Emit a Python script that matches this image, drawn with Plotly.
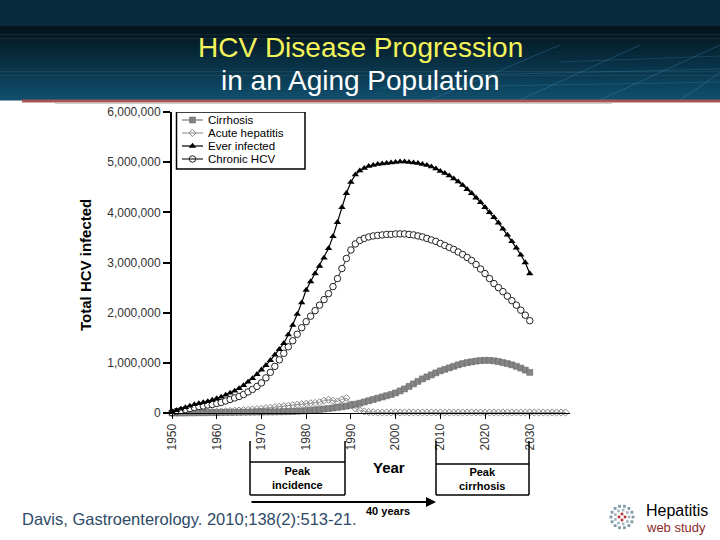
import math
import plotly.graph_objects as go

# ---- data (millions of people) ----
years = list(range(1950, 2031))
years_acute = list(range(1950, 2039))

ever_infected = [
    0.03, 0.05, 0.08, 0.11, 0.14, 0.17, 0.19, 0.21, 0.23, 0.26,
    0.29, 0.32, 0.36, 0.40, 0.44, 0.49, 0.55, 0.62, 0.69, 0.77,
    0.86, 0.95, 1.05, 1.16, 1.27, 1.39, 1.56, 1.75, 1.97, 2.20,
    2.45, 2.62, 2.78, 2.93, 3.09, 3.28, 3.52, 3.80, 4.10, 4.38,
    4.60, 4.75, 4.83, 4.88, 4.92, 4.94, 4.96, 4.97, 4.98, 4.99,
    5.00, 5.01, 5.01, 5.00, 4.99, 4.98, 4.96, 4.94, 4.91, 4.87,
    4.82, 4.78, 4.73, 4.67, 4.61, 4.54, 4.46, 4.38, 4.29, 4.20,
    4.10, 4.00, 3.90, 3.79, 3.67, 3.55, 3.42, 3.29, 3.15, 3.00,
    2.78,
]
chronic_hcv = [
    0.01, 0.03, 0.05, 0.07, 0.09, 0.11, 0.13, 0.14, 0.16, 0.17,
    0.19, 0.21, 0.24, 0.27, 0.30, 0.33, 0.37, 0.42, 0.47, 0.53,
    0.60, 0.70, 0.81, 0.93, 1.06, 1.19, 1.32, 1.44, 1.57, 1.70,
    1.82, 1.93, 2.04, 2.15, 2.26, 2.38, 2.52, 2.68, 2.88, 3.08,
    3.25, 3.37, 3.44, 3.48, 3.51, 3.53, 3.54, 3.55, 3.56, 3.56,
    3.57, 3.57, 3.57, 3.56, 3.55, 3.53, 3.51, 3.48, 3.45, 3.42,
    3.38, 3.34, 3.30, 3.26, 3.21, 3.16, 3.10, 3.04, 2.96, 2.87,
    2.78, 2.68, 2.58, 2.50, 2.42, 2.33, 2.24, 2.15, 2.05, 1.95,
    1.84,
]
cirrhosis = [
    0.000, 0.001, 0.002, 0.003, 0.004, 0.005, 0.006, 0.007, 0.008, 0.009,
    0.010, 0.011, 0.012, 0.013, 0.014, 0.015, 0.016, 0.017, 0.018, 0.019,
    0.020, 0.021, 0.022, 0.023, 0.024, 0.026, 0.028, 0.030, 0.034, 0.040,
    0.046, 0.053, 0.061, 0.070, 0.080, 0.090, 0.100, 0.112, 0.124, 0.138,
    0.155, 0.175, 0.195, 0.220, 0.245, 0.270, 0.295, 0.320, 0.345, 0.370,
    0.400, 0.440, 0.480, 0.530, 0.580, 0.630, 0.680, 0.720, 0.760, 0.800,
    0.840, 0.870, 0.900, 0.930, 0.960, 0.985, 1.005, 1.020, 1.035, 1.045,
    1.050, 1.048, 1.040, 1.025, 1.005, 0.985, 0.960, 0.930, 0.895, 0.855,
    0.810,
]
acute_hepatitis = [
    0.000, 0.005, 0.008, 0.010, 0.012, 0.014, 0.016, 0.018, 0.020, 0.022,
    0.025, 0.030, 0.035, 0.040, 0.045, 0.050, 0.056, 0.062, 0.070, 0.078,
    0.086, 0.096, 0.106, 0.116, 0.126, 0.135, 0.145, 0.155, 0.165, 0.175,
    0.185, 0.195, 0.200, 0.215, 0.245, 0.265, 0.245, 0.230, 0.270, 0.300,
    0.170, 0.090, 0.050, 0.030, 0.020, 0.015, 0.010, 0.010, 0.010, 0.010,
    0.010, 0.010, 0.010, 0.010, 0.010, 0.010, 0.010, 0.010, 0.010, 0.010,
    0.010, 0.010, 0.010, 0.010, 0.010, 0.010, 0.010, 0.010, 0.010, 0.010,
    0.010, 0.010, 0.010, 0.010, 0.010, 0.010, 0.010, 0.010, 0.010, 0.010,
    0.010, 0.010, 0.010, 0.010, 0.010, 0.010, 0.010, 0.010, 0.010,
]

y_ticks = [0, 1000000, 2000000, 3000000, 4000000, 5000000, 6000000]
x_ticks = list(range(1950, 2031, 10))
legend_names = ['Cirrhosis', 'Acute hepatitis', 'Ever infected', 'Chronic HCV']

FONT = 'Liberation Sans, Arial, sans-serif'

# plot area in pixels (720x540 page)
L, R, T, B = 172, 570, 112, 413


def px(x):
    return (x - L) / (R - L)


def py(y):
    return (B - y) / (B - T)


def m(vals):
    return [v * 1e6 for v in vals]


styles = {
    'Cirrhosis': dict(line=dict(color='#7a7a7a', width=1),
                      marker=dict(symbol='square', size=6, color='#858585', line=dict(color='#606060', width=0.5))),
    'Acute hepatitis': dict(line=dict(color='#9a9a9a', width=1),
                            marker=dict(symbol='diamond-open', size=5.5, color='#888', line_width=1)),
    'Ever infected': dict(line=dict(color='black', width=1.2),
                          marker=dict(symbol='triangle-up', size=6.5, color='black')),
    'Chronic HCV': dict(line=dict(color='#222', width=1),
                        marker=dict(symbol='circle', size=6.5, color='white', line=dict(color='#222', width=1))),
}

fig = go.Figure()
fig.add_scatter(x=years_acute, y=m(acute_hepatitis), name='Acute hepatitis', mode='lines+markers',
                cliponaxis=False, **styles['Acute hepatitis'])
fig.add_scatter(x=years, y=m(cirrhosis), name='Cirrhosis', mode='lines+markers',
                cliponaxis=False, **styles['Cirrhosis'])
fig.add_scatter(x=years, y=m(chronic_hcv), name='Chronic HCV', mode='lines+markers',
                cliponaxis=False, **styles['Chronic HCV'])
fig.add_scatter(x=years, y=m(ever_infected), name='Ever infected', mode='lines+markers',
                cliponaxis=False, **styles['Ever infected'])

# compact hand-drawn legend on a pixel-coordinate overlay axis
shapes = []
for i, name in enumerate(legend_names):
    yy = 120 + 13 * i
    st = styles[name]
    shapes.append(dict(type='line', xref='x2', yref='y2', x0=182, x1=203, y0=yy, y1=yy,
                       line=dict(color=st['line']['color'], width=1.2)))
    fig.add_scatter(x=[192.5], y=[yy], xaxis='x2', yaxis='y2', mode='markers', marker=st['marker'],
                    cliponaxis=False, hoverinfo='skip')
    fig.add_annotation(text=name, xref='x2', yref='y2', x=206, y=yy, xanchor='left', yanchor='middle',
                       showarrow=False, font=dict(family=FONT, size=11.5, color='black'))
shapes.append(dict(type='rect', xref='x2', yref='y2', x0=176.5, x1=305, y0=112, y1=169,
                   line=dict(color='black', width=1.5), fillcolor='rgba(0,0,0,0)'))

fig.update_xaxes(range=[1950, 2039], tickvals=x_ticks, ticks='outside', ticklen=5, tickwidth=1,
                 tickcolor='black', tickangle=-90, showline=True, linecolor='black', linewidth=1,
                 showgrid=False, zeroline=False, tickfont=dict(family=FONT, size=12, color='#333'))
fig.update_yaxes(range=[0, 6000000], tickvals=y_ticks, tickformat=',', ticks='outside', ticklen=7,
                 tickwidth=1.5, tickcolor='black', showline=True, linecolor='black', linewidth=2,
                 showgrid=False, zeroline=False, tickfont=dict(family=FONT, size=12, color='#333'))

# header band
shapes.append(dict(type='rect', xref='paper', yref='paper', x0=px(0), x1=px(720), y0=py(0), y1=py(26),
                   fillcolor='#07293c', line_width=0, layer='below'))
top, bot = (3, 20, 29), (16, 78, 108)
n = 18
for i in range(n):
    t = i / (n - 1)
    c = tuple(int(top[k] + (bot[k] - top[k]) * t) for k in range(3))
    y0 = 26 + i * 74 / n
    shapes.append(dict(type='rect', xref='paper', yref='paper', x0=px(0), x1=px(720),
                       y0=py(y0), y1=py(y0 + 74 / n + 0.5), fillcolor='rgb(%d,%d,%d)' % c,
                       line_width=0, layer='below'))
# faint perspective grid in the header
for x0, x1 in [(430, 560), (520, 640), (600, 720), (680, 760)]:
    shapes.append(dict(type='line', xref='paper', yref='paper', x0=px(x0), x1=px(x1), y0=py(100), y1=py(45),
                       line=dict(color='rgba(90,170,215,0.25)', width=1), layer='below'))
for yy, x0 in [(62, 560), (75, 470), (88, 380)]:
    shapes.append(dict(type='line', xref='paper', yref='paper', x0=px(x0), x1=px(720), y0=py(yy), y1=py(yy - 6),
                       line=dict(color='rgba(90,170,215,0.2)', width=1), layer='below'))
shapes.append(dict(type='line', xref='paper', yref='paper', x0=px(22), x1=px(720), y0=py(101), y1=py(101),
                   line=dict(color='#a65656', width=3)))
shapes.append(dict(type='line', xref='paper', yref='paper', x0=px(55), x1=px(612), y0=py(103.5), y1=py(103.5),
                   line=dict(color='#cfcfcf', width=1)))

# brackets under the x axis
for xa, xb, mid in [(250, 345, 462), (436, 529, 464)]:
    for xx in (xa, xb):
        shapes.append(dict(type='line', xref='paper', yref='paper', x0=px(xx), x1=px(xx), y0=py(441), y1=py(495),
                           line=dict(color='black', width=1.5)))
    for yy in (mid, 495):
        shapes.append(dict(type='line', xref='paper', yref='paper', x0=px(xa), x1=px(xb), y0=py(yy), y1=py(yy),
                           line=dict(color='black', width=1.5)))

# logo dots
cx, cy = 622, 517
for r, k, col, s in [(11, 14, '#7d9aa6', 1.4), (7, 9, '#9fb3bb', 1.3), (3, 4, '#b03535', 1.3)]:
    for j in range(k):
        a = 2 * math.pi * j / k
        xx, yy = cx + r * math.cos(a), cy + r * math.sin(a)
        shapes.append(dict(type='rect', xref='paper', yref='paper', x0=px(xx - s), x1=px(xx + s),
                           y0=py(yy - s), y1=py(yy + s), fillcolor=col, line_width=0))

ann = [
    dict(text='HCV Disease Progression', x=px(360), y=py(47), font=dict(size=28, color='#f4f45a')),
    dict(text='in an Aging Population', x=px(360), y=py(80), font=dict(size=28, color='white')),
    dict(text='<b>Total HCV infected</b>', x=px(85), y=py(265), textangle=-90, font=dict(size=15, color='black')),
    dict(text='<b>Year</b>', x=px(389), y=py(467), font=dict(size=15, color='black')),
    dict(text='<b>Peak<br>incidence</b>', x=px(297), y=py(478), font=dict(size=11, color='black')),
    dict(text='<b>Peak<br>cirrhosis</b>', x=px(482), y=py(479), font=dict(size=11, color='black')),
    dict(text='<b>40 years</b>', x=px(388), y=py(511), font=dict(size=11, color='black')),
    dict(text='Davis, Gastroenterology. 2010;138(2):513-21.', x=px(20), y=py(519), xanchor='left',
         font=dict(size=16.5, color='#2e4a68')),
    dict(text='Hepatitis', x=px(710), y=py(510), xanchor='right', font=dict(size=16, color='black')),
    dict(text='web study', x=px(708), y=py(527), xanchor='right', font=dict(size=13, color='#8b2a2a')),
]
for a in ann:
    a.setdefault('xanchor', 'center')
    a.update(xref='paper', yref='paper', showarrow=False, yanchor='middle')
    a['font'].setdefault('family', FONT)
    fig.add_annotation(**a)

# 40-year arrow
fig.add_annotation(xref='paper', yref='paper', x=px(436), y=py(502), ax=-186, ay=0, text='', showarrow=True,
                   arrowhead=2, arrowsize=1, arrowwidth=2, arrowcolor='black')

fig.update_layout(
    width=720, height=540,
    margin=dict(l=L, r=720 - R, t=T, b=540 - B),
    paper_bgcolor='white', plot_bgcolor='white',
    shapes=shapes, showlegend=False,
    font=dict(family=FONT),
    xaxis2=dict(range=[L, R], overlaying='x', visible=False, fixedrange=True),
    yaxis2=dict(range=[B, T], overlaying='y', visible=False, fixedrange=True),
)

fig.write_html('out.html', config={'displayModeBar': False},
               post_script="document.body.style.margin='0';")
